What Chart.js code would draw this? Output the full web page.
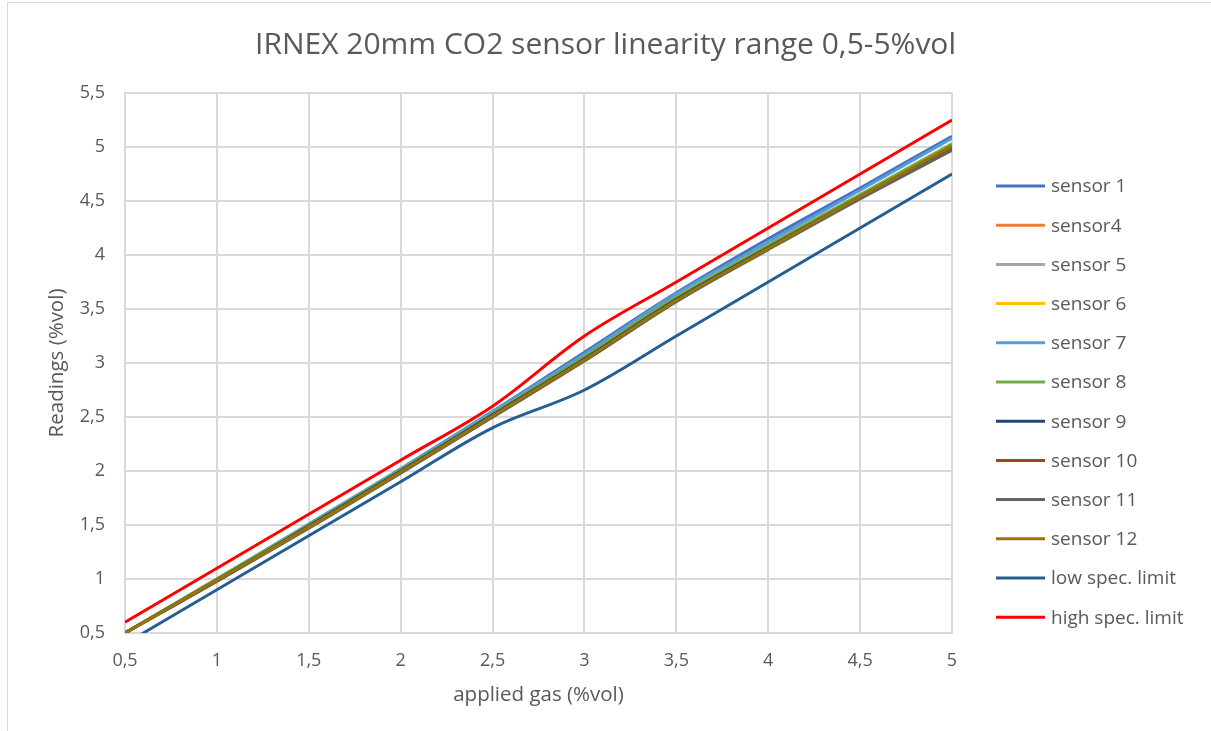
<!DOCTYPE html>
<html>
<head>
<meta charset="utf-8">
<script src="https://cdn.jsdelivr.net/npm/chart.js@4"></script>
<style>
  html, body { margin: 0; padding: 0; background: #fff; }
  #frame { position: absolute; left: 7px; top: 2px; width: 1210px; height: 728px; border: 1px solid #d9d9d9; border-right: none; }
  #wrap { position: absolute; left: 0; top: 0; width: 1211px; height: 731px; }
</style>
</head>
<body>
<div id="frame"></div>
<div id="wrap"><canvas id="chart" width="1211" height="731"></canvas></div>
<script>
// applied gas concentrations (%vol)
const applied = [0.5, 1, 1.5, 2, 2.5, 3, 3.5, 4, 4.5, 5];

// readings (%vol)
const sensor1  = [0.50, 1.00, 1.50, 2.02, 2.55, 3.10, 3.65, 4.15, 4.62, 5.10];
const sensor4  = [0.50, 0.99, 1.49, 2.00, 2.52, 3.04, 3.60, 4.08, 4.55, 5.02];
const sensor5  = [0.50, 0.99, 1.48, 1.99, 2.51, 3.03, 3.58, 4.07, 4.54, 5.00];
const sensor6  = [0.50, 1.00, 1.49, 2.00, 2.52, 3.05, 3.60, 4.08, 4.55, 5.02];
const sensor7  = [0.50, 1.00, 1.51, 2.02, 2.55, 3.08, 3.64, 4.12, 4.60, 5.08];
const sensor8  = [0.50, 1.00, 1.50, 2.01, 2.53, 3.06, 3.61, 4.09, 4.56, 5.03];
const sensor9  = [0.50, 0.99, 1.49, 2.00, 2.52, 3.04, 3.59, 4.07, 4.54, 5.00];
const sensor10 = [0.50, 0.98, 1.48, 1.99, 2.50, 3.02, 3.57, 4.06, 4.53, 4.99];
const sensor11 = [0.50, 0.98, 1.47, 1.98, 2.50, 3.02, 3.57, 4.05, 4.52, 4.97];
const sensor12 = [0.50, 0.99, 1.48, 1.99, 2.51, 3.03, 3.58, 4.06, 4.54, 5.01];
const lowSpec  = [0.40, 0.90, 1.40, 1.90, 2.40, 2.75, 3.25, 3.75, 4.25, 4.75];
const highSpec = [0.60, 1.10, 1.60, 2.10, 2.60, 3.25, 3.75, 4.25, 4.75, 5.25];

const seriesNames = ["sensor 1", "sensor4", "sensor 5", "sensor 6", "sensor 7", "sensor 8",
  "sensor 9", "sensor 10", "sensor 11", "sensor 12", "low spec. limit", "high spec. limit"];
const seriesValues = [sensor1, sensor4, sensor5, sensor6, sensor7, sensor8,
  sensor9, sensor10, sensor11, sensor12, lowSpec, highSpec];
const seriesColors = ["#4472C4", "#ED7D31", "#A5A5A5", "#FFC000", "#5B9BD5", "#70AD47",
  "#264478", "#9E480E", "#636363", "#997300", "#255E91", "#FF0000"];

const xTicks = [0.5, 1, 1.5, 2, 2.5, 3, 3.5, 4, 4.5, 5];

const FONT = "'Open Sans', sans-serif";
const TEXT = "#595959";
const GRID = "#d9d9d9";

function comma(v) {
  return String(Math.round(v * 10) / 10).replace(".", ",");
}

const datasets = seriesNames.map((name, i) => ({
  label: name,
  data: applied.map((x, k) => ({ x, y: seriesValues[i][k] })),
  borderColor: seriesColors[i],
  backgroundColor: seriesColors[i],
  borderWidth: 3,
  pointRadius: 0,
  tension: 0.35,
  fill: false,
  // Excel draws later series on top
  order: seriesNames.length - i,
}));

// legend drawn by hand so spacing matches the Excel one
const sideLegend = {
  id: "sideLegend",
  afterDraw(chart) {
    const c = chart.ctx;
    const a = chart.chartArea;
    const x0 = a.right + 44;
    const step = 39.2;
    const y0 = 186;
    c.save();
    c.font = "19px " + FONT;
    c.textBaseline = "middle";
    c.textAlign = "left";
    chart.data.datasets.forEach((ds, i) => {
      const y = y0 + i * step;
      c.strokeStyle = ds.borderColor;
      c.lineWidth = 3;
      c.beginPath();
      c.moveTo(x0, y);
      c.lineTo(x0 + 49, y);
      c.stroke();
      c.fillStyle = TEXT;
      c.fillText(ds.label, x0 + 55, y + 1);
    });
    c.restore();
  },
};

new Chart(document.getElementById("chart"), {
  type: "line",
  data: { datasets },
  options: {
    responsive: false,
    animation: false,
    layout: { padding: 0 },
    plugins: {
      legend: { display: false },
      tooltip: { enabled: false },
      title: {
        display: true,
        text: "IRNEX 20mm CO2 sensor linearity range 0,5-5%vol",
        color: TEXT,
        font: { family: FONT, size: 30, weight: "normal" },
        padding: { top: 27, bottom: 30 },
      },
    },
    scales: {
      x: {
        type: "linear",
        min: 0.5,
        max: 5,
        afterBuildTicks: (s) => { s.ticks = xTicks.map((v) => ({ value: v })); },
        afterFit: (s) => { s.height = 98; },
        grid: { color: GRID, lineWidth: 2, drawTicks: false },
        border: { color: GRID, width: 2 },
        ticks: { color: TEXT, font: { family: FONT, size: 18 }, padding: 17, callback: (v) => comma(v) },
        title: {
          display: true,
          text: "applied gas (%vol)",
          color: TEXT,
          font: { family: FONT, size: 20.5 },
          padding: { top: 0, bottom: 24 },
        },
      },
      y: {
        min: 0.5,
        max: 5.5,
        ticks: { stepSize: 0.5, color: TEXT, font: { family: FONT, size: 18 }, padding: 20, callback: (v) => comma(v) },
        afterFit: (s) => { s.width = 125; },
        grid: { color: GRID, lineWidth: 2, drawTicks: false },
        border: { color: GRID, width: 2 },
        title: {
          display: true,
          text: "Readings (%vol)",
          color: TEXT,
          font: { family: FONT, size: 20.5 },
          padding: { top: 45, bottom: 0 },
        },
      },
      // empty right-hand box that holds the legend space
      side: {
        type: "linear",
        position: "right",
        display: true,
        afterFit: (s) => { s.width = 259; },
        grid: { display: false, drawOnChartArea: false },
        border: { display: false },
        ticks: { display: false },
      },
    },
  },
  plugins: [sideLegend],
});
</script>
</body>
</html>
